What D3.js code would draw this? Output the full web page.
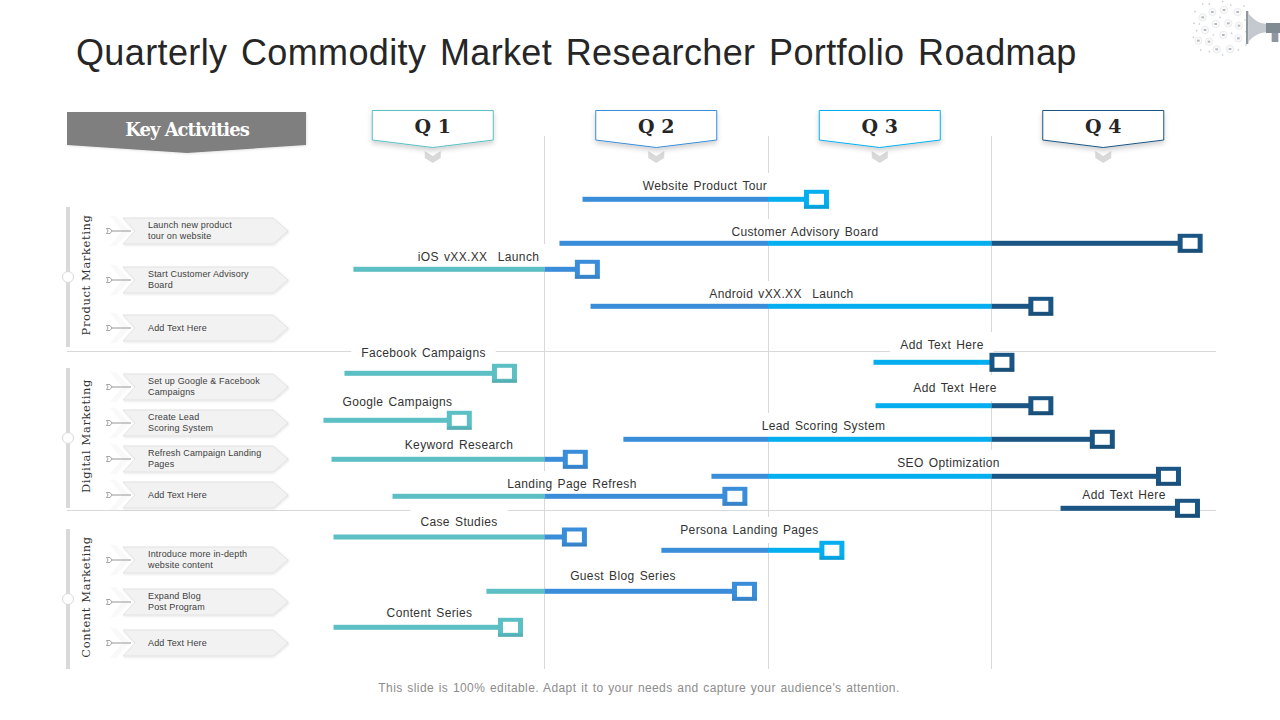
<!DOCTYPE html>
<html>
<head>
<meta charset="utf-8">
<title>Quarterly Commodity Market Researcher Portfolio Roadmap</title>
<script src="https://cdn.jsdelivr.net/npm/d3@7"></script>
<style>
  html, body { margin: 0; padding: 0; background: #fff; }
  svg { display: block; }
  text { font-family: "Liberation Sans", Arial, sans-serif; }
  .slab { font-family: "DejaVu Serif", serif; }
</style>
</head>
<body>
<svg id="chart" width="1280" height="720"></svg>
<script>
// ---- chart data ----
const quarters = ["Q 1", "Q 2", "Q 3", "Q 4"];
const quarterColors = ["#5bbfc4", "#3a8dd9", "#05aeef", "#1b5583"];

// start and end of every activity, in quarters from the start of the year
const activities = ["Website Product Tour", "Customer Advisory Board", "iOS vXX.XX  Launch", "Android vXX.XX  Launch",
  "Add Text Here", "Facebook Campaigns", "Add Text Here", "Google Campaigns", "Lead Scoring System", "Keyword Research",
  "SEO Optimization", "Landing Page Refresh", "Add Text Here", "Case Studies", "Persona Landing Pages", "Guest Blog Series", "Content Series"];
const startQ = [1.170, 1.067, 0.145, 1.206, 2.472, 0.105, 2.481, 0.011, 1.353, 0.047, 1.747, 0.320, 3.309, 0.056, 1.523, 0.740, 0.056];
const endQ = [2.215, 3.887, 1.190, 3.219, 3.045, 0.819, 3.219, 0.617, 3.494, 1.136, 3.790, 1.850, 3.875, 1.132, 2.284, 1.893, 0.846];

const groups = ["Product Marketing", "Digital Marketing", "Content Marketing"];
const groupItems = [
  [["Launch new product", "tour on website"], ["Start Customer Advisory", "Board"], ["Add Text Here"]],
  [["Set up Google & Facebook", "Campaigns"], ["Create Lead", "Scoring System"], ["Refresh Campaign Landing", "Pages"], ["Add Text Here"]],
  [["Introduce more in-depth", "website content"], ["Expand Blog", "Post Program"], ["Add Text Here"]]
];

// ---- layout ----
const rowY = [199.3, 243.3, 269.3, 306.3, 362.3, 373.3, 405.7, 420.3, 439.3, 459.3, 476.3, 496.3, 508.3, 537, 550.3, 591.3, 627.3];
const labelX = [705, 805, 478.5, 781.5, 942, 423.5, 955, 397.5, 823.5, 459, 948.5, 572, 1124, 459, 749.5, 623, 429.5];
const labelY = [186, 232, 257, 294, 345, 353, 388, 402, 426, 445, 463, 484, 495, 522, 530, 576, 613];
const groupTop = [207, 368, 529];
const itemY = [[231, 280, 328], [387, 423, 459, 495], [560, 602, 643]];

const svg = d3.select("#chart");
const x = d3.scaleLinear().domain([0, 4]).range([321, 1215]);

const defs = svg.append("defs");
const shadow = defs.append("filter").attr("id", "soft").attr("x", "-10%").attr("y", "-20%").attr("width", "120%").attr("height", "150%");
shadow.append("feDropShadow").attr("dx", 0).attr("dy", 3).attr("stdDeviation", 2.5).attr("flood-color", "#000").attr("flood-opacity", 0.18);
const small = defs.append("filter").attr("id", "softSmall").attr("x", "-10%").attr("y", "-20%").attr("width", "120%").attr("height", "150%");
small.append("feDropShadow").attr("dx", 1).attr("dy", 1).attr("stdDeviation", 1).attr("flood-color", "#000").attr("flood-opacity", 0.1);
const shade = defs.append("linearGradient").attr("id", "shade").attr("x1", 0).attr("x2", 0).attr("y1", 0).attr("y2", 1);
shade.append("stop").attr("offset", "75%").attr("stop-color", "#000").attr("stop-opacity", 0);
shade.append("stop").attr("offset", "100%").attr("stop-color", "#000").attr("stop-opacity", 0.12);

// title
svg.append("text").attr("x", 76).attr("y", 64.5)
  .attr("font-size", 36).attr("fill", "#262626").attr("word-spacing", 3.2).attr("letter-spacing", 0.37)
  .text("Quarterly Commodity Market Researcher Portfolio Roadmap");

// grid
svg.selectAll(".quarter-line")
  .data([1, 2, 3])
  .join("line")
  .attr("class", "quarter-line")
  .attr("x1", d => Math.floor(x(d)) + 0.5).attr("x2", d => Math.floor(x(d)) + 0.5)
  .attr("y1", 136).attr("y2", 669)
  .attr("stroke", "#d9d9d9").attr("stroke-width", 1);

svg.selectAll(".divider")
  .data([351.5, 510.5])
  .join("line")
  .attr("class", "divider")
  .attr("x1", 67).attr("x2", 1216)
  .attr("y1", d => d).attr("y2", d => d)
  .attr("stroke", "#d9d9d9").attr("stroke-width", 1);

// key activities banner
svg.append("path")
  .attr("d", "M67,112H306V145L187,153L67,145Z")
  .attr("fill", "#7f7f7f").attr("filter", "url(#softSmall)");
svg.append("text").attr("class", "slab")
  .attr("x", 187).attr("y", 136)
  .attr("text-anchor", "middle").attr("font-size", 18).attr("font-weight", "bold")
  .attr("letter-spacing", -1).attr("fill", "#fff")
  .text("Key Activities");

// quarter headers
const header = svg.selectAll(".quarter")
  .data(quarters)
  .join("g")
  .attr("class", "quarter")
  .attr("transform", (d, i) => `translate(${x(i + 0.5)},0)`);

header.append("path")
  .attr("d", "M-8,151L0,156L8,151V158L0,163L-8,158Z")
  .attr("fill", "#d9d9d9");
header.append("path")
  .attr("d", "M-60.5,110.5H60.5V140L0,147.5L-60.5,140Z")
  .attr("fill", "#fff")
  .attr("stroke", (d, i) => quarterColors[i])
  .attr("filter", "url(#soft)");
header.append("text").attr("class", "slab")
  .attr("y", 132.5)
  .attr("text-anchor", "middle").attr("font-size", 19).attr("font-weight", "bold")
  .attr("fill", "#262626")
  .text(d => d);

// left column
const group = svg.selectAll(".group")
  .data(groups)
  .join("g")
  .attr("class", "group");

group.append("rect")
  .attr("x", 66).attr("y", (d, i) => groupTop[i])
  .attr("width", 4).attr("height", 140)
  .attr("fill", "#d9d9d9");
group.append("circle")
  .attr("cx", 68).attr("cy", (d, i) => groupTop[i] + 70)
  .attr("r", 5.5)
  .attr("fill", "#fff").attr("stroke", "#d9d9d9");
group.append("text").attr("class", "slab")
  .attr("transform", (d, i) => `translate(90,${groupTop[i] + 68}) rotate(-90)`)
  .attr("text-anchor", "middle").attr("font-size", 11.5).attr("letter-spacing", 0.6)
  .attr("fill", "#333")
  .text(d => d);

const item = group.selectAll(".item")
  .data((d, i) => groupItems[i].map((lines, j) => ({ lines, y: itemY[i][j] })))
  .join("g")
  .attr("class", "item")
  .attr("transform", d => `translate(0,${d.y})`);

item.append("path")
  .attr("d", "M110,-15H116L130,0L116,15H110L122,0Z")
  .attr("fill", "#f9f9f9");
item.append("path")
  .attr("d", "M123,-13H273L288,0L273,13H123L135,0Z")
  .attr("fill", "#f2f2f2").attr("stroke", "#e2e2e2").attr("filter", "url(#softSmall)");
item.append("path")
  .attr("d", "M106.5,-2.5H110L112,0L110,2.5H106.5L108,0Z")
  .attr("fill", "#fff").attr("stroke", "#7f7f7f").attr("stroke-width", 0.7);
item.append("line")
  .attr("x1", 112).attr("x2", 131).attr("y1", 0).attr("y2", 0)
  .attr("stroke", "#7f7f7f").attr("stroke-width", 0.8);
item.selectAll("text")
  .data(d => d.lines.map((t, k) => ({ t, dy: d.lines.length > 1 ? (k - 0.5) * 11 - 1 : 0 })))
  .join("text")
  .attr("x", 148).attr("y", d => d.dy)
  .attr("dy", "0.34em")
  .attr("font-size", 9).attr("fill", "#404040").attr("letter-spacing", 0.16)
  .text(d => d.t);

// activity labels sit on a white plate that breaks the grid lines
const rows = activities.map((name, i) => ({ name, start: startQ[i], end: endQ[i], i }));

const plates = svg.append("g");
const labels = svg.append("g").selectAll("text")
  .data(rows)
  .join("text")
  .attr("x", d => labelX[d.i]).attr("y", d => labelY[d.i])
  .attr("dy", "0.36em")
  .attr("text-anchor", "middle")
  .attr("font-size", 12).attr("fill", "#333").attr("word-spacing", 1.5).attr("letter-spacing", 0.35)
  .attr("xml:space", "preserve")
  .text(d => d.name);

labels.each(function (d) {
  const box = this.getBBox();
  plates.append("rect")
    .attr("x", box.x - 10).attr("y", labelY[d.i] - 13)
    .attr("width", box.width + 20).attr("height", 26)
    .attr("fill", "#fff");
});

// bars, one segment per quarter crossed
const segments = rows.flatMap(d => d3.range(Math.floor(d.start), Math.floor(d.end) + 1).map(q => ({
  q,
  row: d.i,
  from: Math.max(d.start, q),
  to: Math.min(d.end, q + 1)
})));

svg.append("g").selectAll("rect")
  .data(segments)
  .join("rect")
  .attr("x", d => x(d.from))
  .attr("y", d => rowY[d.row] - 2.5)
  .attr("width", d => x(d.to) - x(d.from))
  .attr("height", 5)
  .attr("fill", d => quarterColors[d.q]);

// end markers
const marker = svg.append("g").selectAll("g")
  .data(rows)
  .join("g")
  .attr("transform", d => `translate(${x(d.end) + 0.4},${rowY[d.i]})`);

marker.append("rect")
  .attr("x", -12.5).attr("y", -9.5).attr("width", 25).attr("height", 19)
  .attr("fill", d => quarterColors[Math.floor(d.end)]);
marker.append("rect")
  .attr("x", -12.5).attr("y", -9.5).attr("width", 25).attr("height", 19)
  .attr("fill", "url(#shade)");
marker.append("rect")
  .attr("x", -7.5).attr("y", -5.5).attr("width", 15).attr("height", 11)
  .attr("fill", "#fff");

// footer
svg.append("text").attr("x", 639).attr("y", 691.5)
  .attr("text-anchor", "middle").attr("font-size", 12).attr("fill", "#8c8c8c")
  .attr("letter-spacing", 0.4).attr("word-spacing", 1)
  .text("This slide is 100% editable. Adapt it to your needs and capture your audience's attention.");

// corner icon: a ring of small pictograms and a megaphone
const icon = svg.append("g").attr("transform", "translate(1170,0) scale(0.3333)");
const iconRings = [[127, 36], [162, 30], [203, 36], [98, 52], [137, 72], [175, 70], [207, 77], [105, 90], [160, 105], [205, 115], [85, 122], [117, 125], [140, 148], [180, 147]];
const iconDots = [[98, 12], [118, 12], [158, 5], [182, 15], [222, 18], [75, 35], [72, 70], [80, 92], [70, 112], [92, 150], [118, 155], [158, 165], [205, 150], [228, 135], [228, 95], [225, 60], [150, 52], [88, 72], [130, 105], [185, 100]];
icon.selectAll(".ring")
  .data(iconRings)
  .join("circle")
  .attr("class", "ring")
  .attr("cx", d => d[0]).attr("cy", d => d[1]).attr("r", 11)
  .attr("fill", "#fafafa").attr("stroke", "#d8dbde").attr("stroke-width", 1.5);
icon.selectAll(".core")
  .data(iconRings)
  .join("rect")
  .attr("class", "core")
  .attr("x", d => d[0] - 4).attr("y", d => d[1] - 3).attr("width", 8).attr("height", 6)
  .attr("fill", "#b5bac0");
icon.selectAll(".dot")
  .data(iconDots)
  .join("circle")
  .attr("class", "dot")
  .attr("cx", d => d[0]).attr("cy", d => d[1]).attr("r", 2.5)
  .attr("fill", "#c4c8cc");
icon.append("rect").attr("x", 228).attr("y", 33).attr("width", 7).attr("height", 99).attr("fill", "#8e979f");
icon.append("path").attr("d", "M235,40C255,65 270,70 290,72V97C270,98 255,105 235,125Z").attr("fill", "#c3c9ce");
icon.append("rect").attr("x", 288).attr("y", 69).attr("width", 42).attr("height", 30).attr("fill", "#7f8a92");
icon.append("rect").attr("x", 305).attr("y", 99).attr("width", 20).attr("height", 27).attr("fill", "#8e979f");
</script>
</body>
</html>
